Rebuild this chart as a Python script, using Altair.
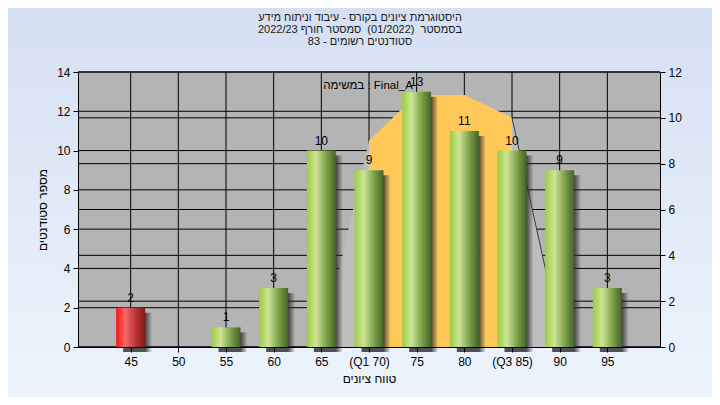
import altair as alt
import pandas as pd

# ---- data ----
grades = [45, 50, 55, 60, 65, 70, 75, 80, 85, 90, 95]
counts = [2, 0, 1, 3, 10, 9, 13, 11, 10, 9, 3]
failed = [True, False, False, False, False, False, False, False, False, False, False]
tick_labels = ["45", "50", "55", "60", "65", "(Q1 70)", "75", "80", "(Q3 85)", "90", "95"]

curve_x = [65, 70, 75, 80, 85, 90]
curve_y = [0, 9, 11, 11, 10, 0.6]
iqr_x = [70, 75, 80, 85]
iqr_y = [9, 11, 11, 10]
tail_x = [85, 90]
tail_y = [10, 0.6]

left_ticks = [0, 2, 4, 6, 8, 10, 12, 14]
right_ticks = [0, 2, 4, 6, 8, 10, 12]

title_lines = [
    "היסטוגרמת ציונים בקורס - עיבוד וניתוח מידע",
    "בסמסטר\u00a0\u00a0(01/2022)\u00a0\u00a0סמסטר חורף 2022/23",
    "סטודנטים רשומים - 83",
]
legend_text = "במשימה : Final_A"
y_title = "מספר סטודנטים"
x_title = "טווח ציונים"

W, H = 582, 275
PL, PT, PR, PB = 70, 64, 52, 50
FONT = "Liberation Sans, DejaVu Sans, sans-serif"

bars = pd.DataFrame({"grade": grades, "count": counts, "failed": failed})
curve = pd.DataFrame({"x": curve_x, "y": curve_y})
iqr = pd.DataFrame({"x": iqr_x, "y": iqr_y})
tail = pd.DataFrame({"x": tail_x, "y": tail_y})
one = pd.DataFrame({"a": [0]})

xs = alt.Scale(domain=[40, 100], nice=False, zero=False)
yl = alt.Scale(domain=[0, 14], nice=False)
yr = alt.Scale(domain=[0, 12], nice=False)

label_expr = " : ".join(
    [f"datum.value == {g} ? '{l}'" for g, l in zip(grades, tick_labels)]
) + " : datum.label"

bg = alt.Chart(one).mark_rect(
    fill=alt.LinearGradient(
        gradient="linear",
        stops=[alt.GradientStop(offset=0, color="#d4dff2"),
               alt.GradientStop(offset=1, color="#edf4fc")],
        x1=0, x2=0, y1=0, y2=1,
    )
).encode(x=alt.value(-PL), x2=alt.value(W + PR), y=alt.value(-PT), y2=alt.value(H + PB))

plotbg = alt.Chart(one).mark_rect(fill="#b4b4b4").encode(
    x=alt.value(0), x2=alt.value(W), y=alt.value(0), y2=alt.value(H)
)

grid_l = alt.Chart(pd.DataFrame({"v": left_ticks})).mark_rule(color="black", strokeWidth=1).encode(
    y=alt.Y("v:Q", scale=yl, axis=None), x=alt.value(0), x2=alt.value(W)
)
grid_r = alt.Chart(pd.DataFrame({"v": right_ticks})).mark_rule(color="black", strokeWidth=1).encode(
    y=alt.Y("v:Q", scale=yr, axis=None), x=alt.value(0), x2=alt.value(W)
)
grid_v = alt.Chart(pd.DataFrame({"g": grades})).mark_rule(color="black", strokeWidth=1).encode(
    x=alt.X("g:Q", scale=xs), y=alt.value(0), y2=alt.value(H)
)

tails = alt.Chart(curve).mark_area(color="#bdbdbd").encode(
    x=alt.X("x:Q", scale=xs), y=alt.Y("y:Q", scale=yr, axis=None)
)
iqr_area = alt.Chart(iqr).mark_area(color="#ffc95a").encode(
    x=alt.X("x:Q", scale=xs), y=alt.Y("y:Q", scale=yr, axis=None)
)
tail_line = alt.Chart(tail).mark_line(color="#3c3c3c", strokeWidth=1).encode(
    x=alt.X("x:Q", scale=xs),
    y=alt.Y("y:Q", scale=yr, axis=alt.Axis(
        orient="right", values=right_ticks, grid=False, tickSize=5, tickColor="black",
        domainColor="black", labelColor="black", labelFont=FONT, labelFontSize=12,
        labelPadding=3, title=None, zindex=5)),
)

shadow = alt.Chart(bars).transform_filter("datum.count > 0").mark_bar(
    size=29, xOffset=7, yOffset=5, y2Offset=1,
    fill=alt.LinearGradient(
        gradient="linear",
        stops=[alt.GradientStop(offset=0, color="rgba(40,40,40,0.8)"),
               alt.GradientStop(offset=0.76, color="rgba(40,40,40,0.8)"),
               alt.GradientStop(offset=1, color="rgba(40,40,40,0)")],
        x1=0, x2=1, y1=0, y2=0,
    ),
).encode(x=alt.X("grade:Q", scale=xs), y=alt.Y("count:Q", scale=yl, axis=None))

green = alt.LinearGradient(
    gradient="linear",
    stops=[alt.GradientStop(offset=0, color="#9ccd3e"),
           alt.GradientStop(offset=0.32, color="#cde596"),
           alt.GradientStop(offset=0.7, color="#789c44"),
           alt.GradientStop(offset=1, color="#46622a")],
    x1=0, x2=1, y1=0, y2=0,
)
red = alt.LinearGradient(
    gradient="linear",
    stops=[alt.GradientStop(offset=0, color="#ff1414"),
           alt.GradientStop(offset=0.32, color="#f26a6a"),
           alt.GradientStop(offset=0.7, color="#b83030"),
           alt.GradientStop(offset=1, color="#7c1a1a")],
    x1=0, x2=1, y1=0, y2=0,
)

green_bars = alt.Chart(bars).transform_filter("!datum.failed && datum.count > 0").mark_bar(
    size=29, fill=green
).encode(
    x=alt.X("grade:Q", scale=xs, title=x_title, axis=alt.Axis(
        values=grades, labelExpr=label_expr, grid=False, tickSize=5, tickColor="black",
        domainColor="black", labelColor="black", labelFont=FONT, labelFontSize=12,
        labelPadding=4, titleFont=FONT, titleFontSize=12, titleFontWeight="normal",
        titleColor="black", titlePadding=6, zindex=5)),
    y=alt.Y("count:Q", scale=yl, title=y_title, axis=alt.Axis(
        orient="left", values=left_ticks, grid=False, tickSize=5, tickColor="black",
        domainColor="black", labelColor="black", labelFont=FONT, labelFontSize=12,
        labelPadding=3, titleFont=FONT, titleFontSize=12, titleFontWeight="normal",
        titleColor="black", titlePadding=7, zindex=5)),
)
red_bars = alt.Chart(bars).transform_filter("datum.failed").mark_bar(size=29, fill=red).encode(
    x=alt.X("grade:Q", scale=xs), y=alt.Y("count:Q", scale=yl, axis=None)
)

bar_text = alt.Chart(bars).transform_filter("datum.count > 0").mark_text(
    font=FONT, fontSize=12, color="black", baseline="bottom", dy=-3
).encode(x=alt.X("grade:Q", scale=xs), y=alt.Y("count:Q", scale=yl, axis=None), text="count:Q")

legend = alt.Chart(one).mark_text(
    text=legend_text, font=FONT, fontSize=11.5, color="black", align="center", baseline="middle"
).encode(x=alt.value(290), y=alt.value(14))

titles = alt.Chart(pd.DataFrame({"t": title_lines, "i": [0, 1, 2]})).transform_calculate(
    yy="-54 + 12 * datum.i"
).mark_text(font=FONT, fontSize=11, color="#1a1a1a", align="center", baseline="middle").encode(
    x=alt.value(282), y=alt.Y("yy:Q", scale=None), text="t:N"
)

chart = alt.layer(
    bg, plotbg, grid_l, grid_r, grid_v, tails, iqr_area, tail_line,
    shadow, green_bars, red_bars, bar_text, legend, titles
).resolve_scale(y="independent").properties(
    width=W, height=H, autosize="none",
    padding={"left": PL, "top": PT, "right": PR, "bottom": PB},
    background="#e6eefa",
).configure_view(stroke=None)

chart.save("out.html", embed_options={"renderer": "svg", "actions": False})
